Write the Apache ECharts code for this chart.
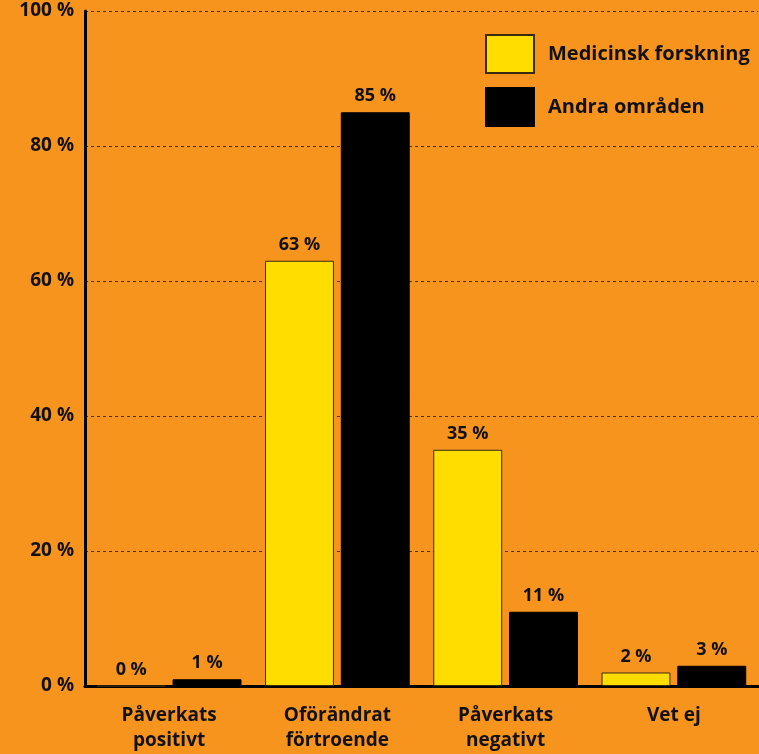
<!DOCTYPE html>
<html>
<head>
<meta charset="utf-8">
<script src="https://cdn.jsdelivr.net/npm/echarts@6/dist/echarts.min.js"></script>
<style>
  html, body { margin: 0; padding: 0; background: #F7941E; }
  #main { width: 759px; height: 754px; }
</style>
</head>
<body>
<div id="main"></div>
<script>
// kategorier och värden (procent)
var categories = ['Påverkats\npositivt', 'Oförändrat\nförtroende', 'Påverkats\nnegativt', 'Vet ej'];
var medicinsk = [0, 63, 35, 2];
var andra = [1, 85, 11, 3];
var seriesNames = ['Medicinsk forskning', 'Andra områden'];
var yTicks = [0, 20, 40, 60, 80, 100];

var font = '"Open Sans", "DejaVu Sans", sans-serif';

var chart = echarts.init(document.getElementById('main'));

var labelStyle = {
    show: true,
    position: 'top',
    distance: 7,
    formatter: '{c} %',
    color: '#111',
    fontFamily: font,
    fontWeight: 'bold',
    fontSize: 18
};

var option = {
    backgroundColor: '#F7941E',
    animation: false,
    grid: {
        left: 85,
        right: 1,
        top: 11,
        bottom: 68
    },
    legend: {
        left: 480,
        top: 29,
        orient: 'vertical',
        itemWidth: 48,
        itemHeight: 38,
        itemGap: 13,
        icon: 'rect',
        data: seriesNames,
        textStyle: {
            color: '#111',
            fontFamily: font,
            fontWeight: 'bold',
            fontSize: 20,
            padding: [0, 0, 0, 9]
        }
    },
    xAxis: {
        type: 'category',
        data: categories,
        axisLine: { lineStyle: { color: '#000', width: 3 } },
        axisTick: { show: false },
        axisLabel: {
            color: '#111',
            fontFamily: font,
            fontWeight: 'bold',
            fontSize: 19,
            lineHeight: 25,
            margin: 17
        }
    },
    yAxis: {
        type: 'value',
        min: yTicks[0],
        max: yTicks[yTicks.length - 1],
        interval: 20,
        axisLine: { show: true, lineStyle: { color: '#000', width: 3 } },
        axisTick: { show: false },
        axisLabel: {
            formatter: '{value} %',
            color: '#111',
            fontFamily: font,
            fontWeight: 'bold',
            fontSize: 19,
            margin: 11
        },
        splitLine: {
            lineStyle: { color: '#4a300e', type: [3, 3], width: 1 }
        }
    },
    series: [
        {
            name: seriesNames[0],
            type: 'bar',
            data: medicinsk,
            barGap: '10%',
            barCategoryGap: '14%',
            itemStyle: { color: '#FFDD00', borderColor: '#3a2a10', borderWidth: 1 },
            label: labelStyle
        },
        {
            name: seriesNames[1],
            type: 'bar',
            data: andra,
            itemStyle: { color: '#000000', borderColor: '#000', borderWidth: 1 },
            label: labelStyle
        }
    ]
};

chart.setOption(option);
</script>
</body>
</html>
